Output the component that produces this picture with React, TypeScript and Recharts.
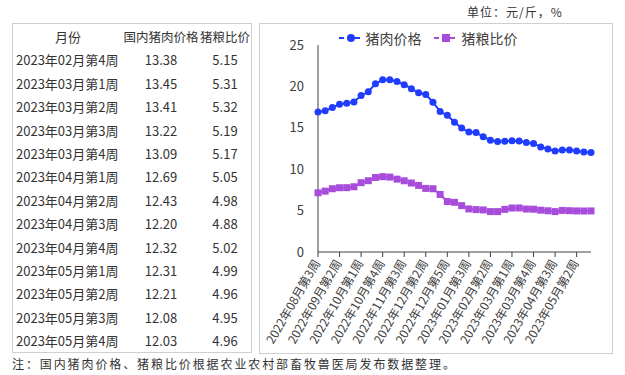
import { LineChart, Line, XAxis, YAxis, Legend } from "recharts";

// 周度标签（2022年08月第3周 ～ 2023年05月第4周）
const weeks = [
  "2022年08月第3周", "2022年08月第4周", "2022年09月第1周", "2022年09月第2周",
  "2022年09月第3周", "2022年09月第4周", "2022年10月第1周", "2022年10月第2周",
  "2022年10月第3周", "2022年10月第4周", "2022年11月第1周", "2022年11月第2周",
  "2022年11月第3周", "2022年11月第4周", "2022年12月第1周", "2022年12月第2周",
  "2022年12月第3周", "2022年12月第4周", "2022年12月第5周", "2023年01月第1周",
  "2023年01月第2周", "2023年01月第3周", "2023年01月第4周", "2023年02月第1周",
  "2023年02月第2周", "2023年02月第3周", "2023年02月第4周", "2023年03月第1周",
  "2023年03月第2周", "2023年03月第3周", "2023年03月第4周", "2023年04月第1周",
  "2023年04月第2周", "2023年04月第3周", "2023年04月第4周", "2023年05月第1周",
  "2023年05月第2周", "2023年05月第3周", "2023年05月第4周",
];

// 国内猪肉价格（元/斤）
const porkPrice = [
  16.9, 17.05, 17.45, 17.85, 17.98, 18.13, 18.9, 19.35, 20.32, 20.8,
  20.8, 20.6, 20.2, 19.72, 19.23, 19.03, 18.09, 16.96, 16.51, 15.66,
  14.97, 14.48, 14.44, 13.92, 13.51, 13.35, 13.38, 13.45, 13.41, 13.22,
  13.09, 12.69, 12.43, 12.2, 12.32, 12.31, 12.21, 12.08, 12.03,
];

// 猪粮比价
const pigGrainRatio = [
  7.15, 7.35, 7.64, 7.76, 7.77, 7.88, 8.37, 8.61, 9.0, 9.1,
  9.05, 8.8, 8.6, 8.33, 8.04, 7.68, 7.64, 6.95, 6.1, 6.0,
  5.6, 5.2, 5.12, 5.08, 4.88, 4.88, 5.15, 5.31, 5.32, 5.19,
  5.17, 5.05, 4.98, 4.88, 5.02, 4.99, 4.96, 4.95, 4.96,
];

const yTicks = [0, 5, 10, 15, 20, 25];
const tableHeaders = ["月份", "国内猪肉价格", "猪粮比价"];
const TABLE_START = 26;

const BLUE = "#1f3cff";
const PURPLE = "#a84ddb";
const FONT = "'Noto Sans CJK SC', 'Noto Sans', sans-serif";
const ROW_H = 23.4;
const COL_W = [110, 76, 52];

const data = weeks.map((w, i) => ({ week: w, pork: porkPrice[i], ratio: pigGrainRatio[i] }));

const SquareDot = (props: any) => {
  const { cx, cy, index } = props;
  if (cx == null || cy == null) return null;
  return <rect key={`sq-${index}`} x={cx - 3.5} y={cy - 3.5} width={7} height={7} fill={PURPLE} />;
};

const WeekTick = ({ x, y, payload }: any) => (
  <g transform={`translate(${x},${y})`}>
    <text
      transform="rotate(-60)"
      x={-2}
      y={0}
      dy="0.35em"
      textAnchor="end"
      fontSize={12}
      fill="#404040"
      fontFamily={FONT}
    >
      {payload.value}
    </text>
  </g>
);

const LegendBox = () => (
  <div style={{ display: "flex", justifyContent: "center", alignItems: "center", fontSize: 14, color: "#404040", fontFamily: FONT, height: 20 }}>
    <svg width={24} height={10} style={{ marginRight: 3 }}>
      <line x1={0} y1={5} x2={24} y2={5} stroke={BLUE} strokeWidth={2} strokeDasharray="5 3" />
      <circle cx={12} cy={5} r={4} fill={BLUE} />
    </svg>
    <span style={{ marginRight: 12 }}>猪肉价格</span>
    <svg width={24} height={10} style={{ marginRight: 4 }}>
      <line x1={0} y1={5} x2={24} y2={5} stroke={PURPLE} strokeWidth={2} strokeDasharray="5 3" />
      <rect x={8} y={1} width={8} height={8} fill={PURPLE} />
    </svg>
    <span>猪粮比价</span>
  </div>
);

const cell = (i: number, align: "left" | "center"): React.CSSProperties => ({
  width: COL_W[i],
  height: ROW_H,
  lineHeight: `${ROW_H}px`,
  textAlign: align,
  paddingLeft: align === "left" ? 3 : 0,
  boxSizing: "border-box",
  whiteSpace: "nowrap",
  overflow: "visible",
});

export default function App() {
  const rows = weeks.slice(TABLE_START).map((w, i) => ({
    week: w,
    pork: porkPrice[TABLE_START + i],
    ratio: pigGrainRatio[TABLE_START + i],
  }));

  return (
    <div style={{ position: "absolute", left: 0, top: 0, width: 625, height: 375, background: "#fff", fontFamily: FONT }}>
      {/* 左侧表格 */}
      <div style={{ position: "absolute", left: 12, top: 23, width: 238, height: 328, border: "1px solid #cfcfcf", fontSize: 13, color: "#333" }}>
        <div style={{ marginTop: 1 }}>
          <div style={{ display: "flex" }}>
            <div style={cell(0, "center")}>{tableHeaders[0]}</div>
            <div style={{ ...cell(1, "center"), fontSize: 12.5 }}>{tableHeaders[1]}</div>
            <div style={{ ...cell(2, "center"), fontSize: 12.5 }}>{tableHeaders[2]}</div>
          </div>
          {rows.map((r) => (
            <div key={r.week} style={{ display: "flex" }}>
              <div style={cell(0, "left")}>{r.week}</div>
              <div style={cell(1, "center")}>{r.pork.toFixed(2)}</div>
              <div style={cell(2, "center")}>{r.ratio.toFixed(2)}</div>
            </div>
          ))}
        </div>
      </div>

      {/* 单位 */}
      <div style={{ position: "absolute", left: 467, top: 3, fontSize: 12, color: "#333", letterSpacing: 1 }}>
        单位：元/斤，%
      </div>

      {/* 右侧图表 */}
      <div style={{ position: "absolute", left: 259, top: 23, width: 352, height: 329, border: "1px solid #cfcfcf" }}>
        <LineChart width={352} height={329} data={data} margin={{ top: 1, right: 21, left: 5, bottom: 0 }}>
          <Legend verticalAlign="top" content={<LegendBox />} wrapperStyle={{ top: 4, height: 20 }} />
          <XAxis
            dataKey="week"
            interval={2}
            tick={<WeekTick />}
            tickSize={5}
            height={101}
            stroke="#404040"
            tickLine={{ stroke: "#404040" }}
          />
          <YAxis
            domain={[0, 25]}
            ticks={yTicks}
            width={53}
            tickLine={false}
            tickMargin={8}
            stroke="#404040"
            tick={{ fill: "#404040", fontSize: 13, fontFamily: FONT }}
          />
          <Line
            type="linear"
            dataKey="pork"
            name="猪肉价格"
            stroke={BLUE}
            strokeWidth={2}
            dot={{ r: 3.5, fill: BLUE, stroke: BLUE, strokeWidth: 0 }}
            isAnimationActive={false}
          />
          <Line
            type="linear"
            dataKey="ratio"
            name="猪粮比价"
            stroke={PURPLE}
            strokeWidth={2}
            dot={<SquareDot />}
            isAnimationActive={false}
          />
        </LineChart>
      </div>

      {/* 注释 */}
      <div style={{ position: "absolute", left: 12, top: 355, fontSize: 12, color: "#333", letterSpacing: 1.9, whiteSpace: "nowrap" }}>
        注：国内猪肉价格、猪粮比价根据农业农村部畜牧兽医局发布数据整理。
      </div>
    </div>
  );
}
